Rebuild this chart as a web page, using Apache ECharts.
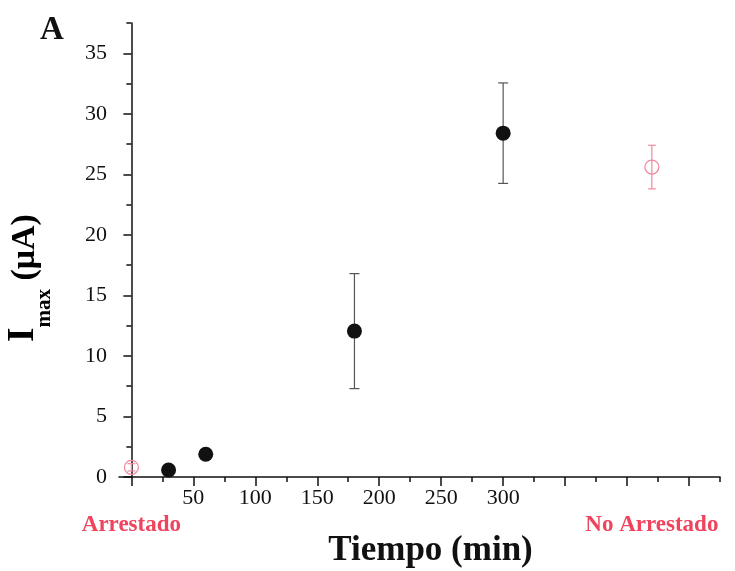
<!DOCTYPE html>
<html>
<head>
<meta charset="utf-8">
<script src="https://cdn.jsdelivr.net/npm/echarts@6/dist/echarts.min.js"></script>
<style>
html,body{margin:0;padding:0;background:#fff;}
#chart{width:735px;height:571px;}
</style>
</head>
<body>
<div id="chart"></div>
<script>
// Time-course samples (min) and Imax (µA)
const timeMin = [30, 60, 180, 300];
const imaxMean = [0.58, 1.88, 12.05, 28.4];
const imaxErr = [0.05, 0.35, 4.75, 4.15];

// Controls
const ctrlLabels = ['Arrestado', 'No Arrestado'];
const ctrlX = [0, 420];
const ctrlMean = [0.8, 25.6];
const ctrlErr = [0.3, 1.8];

// Axis ticks
const xMajorTicks = [0, 50, 100, 150, 200, 250, 300, 350, 400, 450];
const xMinorTicks = [25, 75, 125, 175, 225, 275, 325, 375, 425, 475];
const xTickLabels = [50, 100, 150, 200, 250, 300];
const yMajorTicks = [0, 5, 10, 15, 20, 25, 30, 35];
const yMinorTicks = [2.5, 7.5, 12.5, 17.5, 22.5, 27.5, 32.5, 37.5];

const serif = '"Liberation Serif", "DejaVu Serif", serif';
const red = '#f0435d';
const pink = '#f08aa0';

const chart = echarts.init(document.getElementById('chart'));

const mainData = timeMin.map((t, i) => [t, imaxMean[i], imaxErr[i]]);
const ctrlData = ctrlX.map((t, i) => [t, ctrlMean[i], ctrlErr[i]]);

function errRender(color, half) {
  return function (params, api) {
    const x = api.value(0), y = api.value(1), e = api.value(2);
    const top = api.coord([x, y + e]);
    const bot = api.coord([x, y - e]);
    const st = { stroke: color, lineWidth: 1.2 };
    return {
      type: 'group',
      children: [
        { type: 'line', shape: { x1: top[0], y1: top[1], x2: bot[0], y2: bot[1] }, style: st },
        { type: 'line', shape: { x1: top[0] - half, y1: top[1], x2: top[0] + half, y2: top[1] }, style: st },
        { type: 'line', shape: { x1: bot[0] - half, y1: bot[1], x2: bot[0] + half, y2: bot[1] }, style: st }
      ]
    };
  };
}

const xBase = { type: 'value', min: -10, max: 475, gridIndex: 0, position: 'bottom', offset: 0, splitLine: { show: false } };
const yBase = { type: 'value', min: 0, max: 37.5, gridIndex: 0, position: 'left', offset: 0, splitLine: { show: false } };

chart.setOption({
  backgroundColor: '#fff',
  animation: false,
  grid: { left: 119, right: 15, top: 23, bottom: 94, containLabel: false, outerBoundsMode: 'none' },
  graphic: [
    {
      type: 'text', left: 40, top: 14,
      style: { text: 'A', font: 'bold 33px ' + serif, fill: '#111' }
    },
    {
      type: 'text', x: 30, y: 278, rotation: Math.PI / 2,
      style: {
        text: '{i|I}{s|max}{n| (μA)}',
        align: 'center', verticalAlign: 'middle',
        rich: {
          i: { fontFamily: serif, fontWeight: 'bold', fontSize: 37, color: '#111', verticalAlign: 'bottom', padding: [0, 0, 13, 0] },
          s: { fontFamily: serif, fontWeight: 'bold', fontSize: 21, color: '#111', verticalAlign: 'bottom' },
          n: { fontFamily: serif, fontWeight: 'bold', fontSize: 34, color: '#111', verticalAlign: 'bottom', padding: [0, 0, 13, 0] }
        }
      }
    }
  ],
  xAxis: [
    Object.assign({}, xBase, {
      name: 'Tiempo (min)', nameLocation: 'middle', nameGap: 56,
      nameTextStyle: { fontFamily: serif, fontWeight: 'bold', fontSize: 35, color: '#111', padding: [0, 0, 0, 22] },
      axisLine: { show: true, lineStyle: { color: '#111', width: 1.5 } },
      axisTick: { show: true, length: 9, customValues: xMajorTicks, lineStyle: { color: '#111', width: 1.5 } },
      axisLabel: { show: true, customValues: xTickLabels, margin: 10, fontFamily: serif, fontSize: 22, color: '#111' }
    }),
    Object.assign({}, xBase, {
      axisLine: { show: false },
      axisTick: { show: true, length: 5, customValues: xMinorTicks, lineStyle: { color: '#111', width: 1.5 } },
      axisLabel: { show: false }
    }),
    Object.assign({}, xBase, {
      axisLine: { show: false },
      axisTick: { show: false },
      axisLabel: {
        show: true, customValues: ctrlX, margin: 37,
        formatter: function (v) { const i = ctrlX.indexOf(v); return i >= 0 ? ctrlLabels[i] : ''; },
        fontFamily: serif, fontWeight: 'bold', fontSize: 23, color: red
      }
    })
  ],
  yAxis: [
    Object.assign({}, yBase, {
      axisLine: { show: true, lineStyle: { color: '#111', width: 1.5 } },
      axisTick: { show: true, length: 8, customValues: yMajorTicks, lineStyle: { color: '#111', width: 1.5 } },
      axisLabel: { show: true, customValues: yMajorTicks, margin: 12, fontFamily: serif, fontSize: 22, color: '#111' }
    }),
    Object.assign({}, yBase, {
      axisLine: { show: false },
      axisTick: { show: true, length: 5, customValues: yMinorTicks, lineStyle: { color: '#111', width: 1.5 } },
      axisLabel: { show: false }
    })
  ],
  series: [
    {
      type: 'custom', xAxisIndex: 0, yAxisIndex: 0, z: 1,
      renderItem: errRender('#555', 5),
      encode: { x: 0, y: 1 },
      data: mainData
    },
    {
      type: 'custom', xAxisIndex: 0, yAxisIndex: 0, z: 1,
      renderItem: errRender(pink, 4),
      encode: { x: 0, y: 1 },
      data: ctrlData
    },
    {
      type: 'scatter', xAxisIndex: 0, yAxisIndex: 0, z: 3,
      symbol: 'circle', symbolSize: 15,
      itemStyle: { color: '#111', opacity: 1 },
      data: mainData.map(d => [d[0], d[1]])
    },
    {
      type: 'scatter', xAxisIndex: 0, yAxisIndex: 0, z: 3,
      symbol: 'circle', symbolSize: 14,
      itemStyle: { color: 'rgba(255,255,255,0)', borderColor: pink, borderWidth: 1.3, opacity: 1 },
      data: ctrlData.map(d => [d[0], d[1]])
    }
  ]
});
</script>
</body>
</html>
